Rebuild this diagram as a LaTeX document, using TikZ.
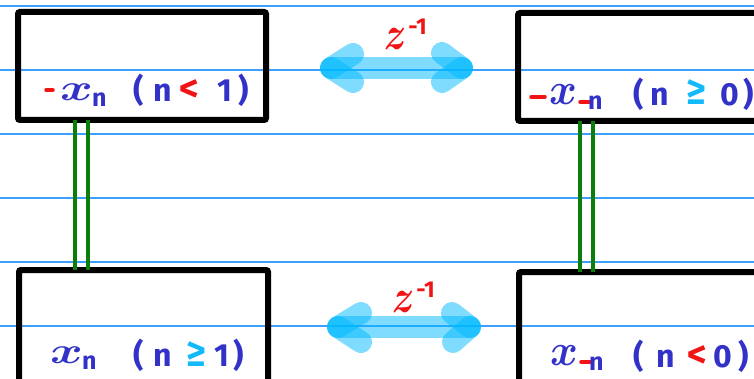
\documentclass[tikz,border=0pt]{standalone}
\usepackage{amssymb}
\usepackage{fontspec}
\setmainfont{Fira Sans}
\usetikzlibrary{calc}

\definecolor{ruleblue}{RGB}{60,160,255}
\definecolor{ink}{RGB}{50,50,200}
\definecolor{inkred}{RGB}{240,20,20}
\definecolor{inkcyan}{RGB}{20,185,250}
\definecolor{wire}{RGB}{10,125,10}
\definecolor{arrowblue}{RGB}{0,185,255}

\tikzset{
  frame/.style={draw=black, line width=6pt, rounded corners=2pt, inner sep=0pt, outer sep=0pt},
  wireline/.style={draw=wire, line width=3.5pt},
  ruling/.style={draw=ruleblue, line width=1.3pt},
  shaft/.style={draw=arrowblue, draw opacity=0.5, line width=22pt, line cap=round},
  headstroke/.style={draw=arrowblue, draw opacity=0.5, line width=22pt, line cap=round},
  hand/.style={font=\fontsize{32}{36}\selectfont\bfseries\boldmath, inner sep=0pt, anchor=base west, text=ink},
  sub/.style={hand, font=\fontsize{25}{28}\selectfont\bfseries},
  rel/.style={hand, font=\fontsize{38}{40}\selectfont\bfseries},
  zlabel/.style={font=\fontsize{26}{30}\selectfont\bfseries\boldmath, inner sep=0pt, anchor=base west, text=inkred},
  minusstroke/.style={draw=inkred, line width=3.5pt, line cap=round},
}

\newcommand\zinv{\scalebox{1.5}[1.9]{$z$}\hspace{2pt}\raisebox{15pt}{\fontsize{23}{24}\selectfont -1}}

\begin{document}
\begin{tikzpicture}[x=1pt, y=-1pt]
  \useasboundingbox (0,0) rectangle (754,379);

  % ruled paper
  \foreach \yy in {6,70,134,198,262,326}
    \draw[ruling] (0,\yy) -- (754,\yy);

  % boxes
  \node[frame, minimum width=248pt, minimum height=108pt] (TL) at (142,66) {};
  \node[frame, minimum width=262pt, minimum height=108pt] (TR) at (649,67) {};
  \node[frame, minimum width=249pt, minimum height=130pt] (BL) at (143.5,335) {};
  \node[frame, minimum width=261pt, minimum height=128pt] (BR) at (649.5,336) {};

  % double wires between the boxes
  \draw[wireline] ([xshift=57pt]TL.south west) -- ([xshift=57pt]TL.south west |- BL.north);
  \draw[wireline] ([xshift=70pt]TL.south west) -- ([xshift=70pt]TL.south west |- BL.north);
  \draw[wireline] ([xshift=62pt]TR.south west) -- ([xshift=62pt]TR.south west |- BR.north);
  \draw[wireline] ([xshift=75pt]TR.south west) -- ([xshift=75pt]TR.south west |- BR.north);

  % double arrows
  \coordinate (tA) at (331,68);
  \coordinate (tB) at (462,68);
  \draw[shaft] (tA) -- (tB);
  \draw[headstroke] (tA) -- ++(22,-14);
  \draw[headstroke] (tA) -- ++(22,14);
  \draw[headstroke] (tB) -- ++(-20,-15);
  \draw[headstroke] (tB) -- ++(-20,14);

  \coordinate (bA) at (338,327);
  \coordinate (bB) at (470,327);
  \draw[shaft] (bA) -- (bB);
  \draw[headstroke] (bA) -- ++(23,-14);
  \draw[headstroke] (bA) -- ++(23,15);
  \draw[headstroke] (bB) -- ++(-18,-14);
  \draw[headstroke] (bB) -- ++(-17,15);

  % shift labels
  \node[zlabel] (zt) at (384,50) {\zinv};
  \node[zlabel] (zb) at (392,312) {\zinv};

  % top left: -x_n (n < 1)
  \coordinate (tlm1) at (46,90);  \coordinate (tlm2) at (53,90);
  \draw[minusstroke] (tlm1) -- (tlm2);
  \node[hand] (tlx) at (60,101) {\scalebox{2.0}[1.5]{$x$}};
  \node[sub] (tlsub) at (92,107) {n};
  \node[hand] (tlo) at (133,102) {(};
  \node[hand] (tln) at (153,102) {n};
  \node[rel, text=inkred] (tllt) at (179,102) {<};
  \node[hand] (tl1) at (217,102) {1};
  \node[hand] (tlc) at (238,102) {)};

  % top right: -x_{-n} (n >= 0)
  \coordinate (trm1) at (531,97); \coordinate (trm2) at (545,97);
  \draw[minusstroke] (trm1) -- (trm2);
  \node[hand] (trx) at (549,105) {\scalebox{1.7}[1.8]{$x$}};
  \coordinate (trs1) at (580,102); \coordinate (trs2) at (590,102);
  \draw[minusstroke] (trs1) -- (trs2);
  \node[sub] (trsub) at (588,110) {n};
  \node[hand] (tro) at (633,106) {(};
  \node[hand] (trn) at (650,106) {n};
  \node[rel, text=inkcyan] (trge) at (686,105) {≥};
  \node[hand] (tr0) at (720,106) {0};
  \node[hand] (trc) at (743,106) {)};

  % bottom left: x_n (n >= 1)
  \node[hand] (blx) at (50,363) {\scalebox{2.0}[1.5]{$x$}};
  \node[sub] (blsub) at (82,369) {n};
  \node[hand] (blo) at (133,366) {(};
  \node[hand] (bln) at (153,366) {n};
  \node[rel, text=inkcyan] (blge) at (186,366) {≥};
  \node[hand] (bl1) at (214,366) {1};
  \node[hand] (blc) at (233,366) {)};

  % bottom right: x_{-n} (n < 0)
  \node[hand] (brx) at (550,365) {\scalebox{1.7}[1.8]{$x$}};
  \coordinate (brs1) at (581,362); \coordinate (brs2) at (591,362);
  \draw[minusstroke] (brs1) -- (brs2);
  \node[sub] (brsub) at (589,370) {n};
  \node[hand] (bro) at (633,367) {(};
  \node[hand] (brn) at (656,367) {n};
  \node[rel, text=inkred] (brlt) at (687,367) {<};
  \node[hand] (br0) at (713,367) {0};
  \node[hand] (brc) at (738,367) {)};
\end{tikzpicture}
\end{document}
